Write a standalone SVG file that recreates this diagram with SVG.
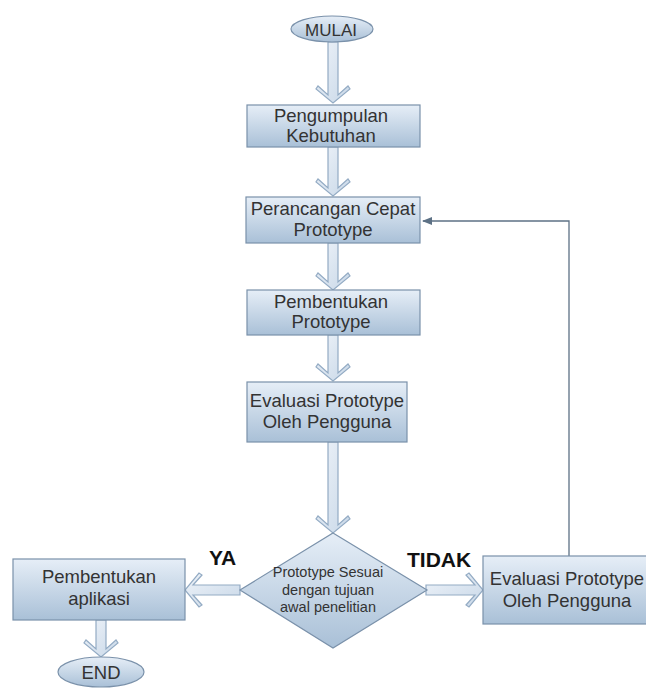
<svg xmlns="http://www.w3.org/2000/svg" width="646" height="688" viewBox="0 0 646 688">
<defs>
<linearGradient id="gBox" x1="0" y1="0" x2="0" y2="1">
<stop offset="0" stop-color="#e6eef7"/>
<stop offset="1" stop-color="#a9c0d7"/>
</linearGradient>
<linearGradient id="gArr" x1="0" y1="0" x2="1" y2="1">
<stop offset="0" stop-color="#eef3f9"/>
<stop offset="1" stop-color="#c9d8e8"/>
</linearGradient>
<marker id="tri" markerWidth="10" markerHeight="8" refX="9" refY="4" orient="auto" markerUnits="userSpaceOnUse">
<path d="M0,0 L10,4 L0,8 Z" fill="#5d7185"/>
</marker>
<style>
.box{fill:url(#gBox);stroke:#7a91aa;stroke-width:1.2}
.arr{fill:url(#gArr);stroke:#93abc4;stroke-width:1.2;stroke-linejoin:miter}
.t{font-family:"Liberation Sans",Arial,sans-serif;font-size:18.5px;fill:#333;text-anchor:middle}
.ts{font-family:"Liberation Sans",Arial,sans-serif;font-size:14.5px;fill:#333;text-anchor:middle}
.lb{font-family:"Liberation Sans",Arial,sans-serif;font-size:21px;font-weight:bold;fill:#111}
.ln{fill:none;stroke:#5d7185;stroke-width:1.3}
</style>
</defs>
<rect width="646" height="688" fill="#ffffff"/>

<g id="connectors">
<path class="arr" d="M328,42 L338,42 L338,95 L348,86 L350,89 L333,103 L316,89 L318,86 L328,95 Z"/>
<path class="arr" d="M328,147 L338,147 L338,188 L348,179 L350,182 L333,196 L316,182 L318,179 L328,188 Z"/>
<path class="arr" d="M328,243 L338,243 L338,282 L348,273 L350,276 L333,290 L316,276 L318,273 L328,282 Z"/>
<path class="arr" d="M328,335 L338,335 L338,373 L348,364 L350,367 L333,381 L316,367 L318,364 L328,373 Z"/>
<path class="arr" d="M328,442 L338,442 L338,525 L348,516 L350,519 L333,533 L316,519 L318,516 L328,525 Z"/>
<path class="arr" d="M240,585 L240,595 L193,595 L202,605 L199,607 L185,590 L199,573 L202,575 L193,585 Z"/>
<path class="arr" d="M426,585 L426,595 L475,595 L466,605 L469,607 L483,590 L469,573 L466,575 L475,585 Z"/>
<path class="arr" d="M96,620 L106,620 L106,649 L116,640 L118,643 L101,657 L84,643 L86,640 L96,649 Z"/>
<path class="ln" d="M569,556 L569,221 L423,221" marker-end="url(#tri)"/>
</g>

<g id="mulai">
<ellipse class="box" cx="332" cy="29" rx="41" ry="13"/>
<text class="t" x="331" y="36" style="font-size:17px">MULAI</text>
</g>

<g id="pengumpulan">
<rect class="box" x="247" y="105" width="173" height="42"/>
<text class="t" x="331" y="122">Pengumpulan</text>
<text class="t" x="331" y="142">Kebutuhan</text>
</g>

<g id="perancangan">
<rect class="box" x="246" y="197" width="174" height="46"/>
<text class="t" x="333" y="215">Perancangan Cepat</text>
<text class="t" x="333" y="236">Prototype</text>
</g>

<g id="pembentukan-prototype">
<rect class="box" x="247" y="290" width="173" height="45"/>
<text class="t" x="331" y="308">Pembentukan</text>
<text class="t" x="331" y="328">Prototype</text>
</g>

<g id="evaluasi1">
<rect class="box" x="247" y="382" width="160" height="60"/>
<text class="t" x="327" y="407">Evaluasi Prototype</text>
<text class="t" x="327" y="428">Oleh Pengguna</text>
</g>

<g id="keputusan">
<path class="box" d="M333,533 L427,590 L333,648 L240,590 Z"/>
<text class="ts" x="328" y="577">Prototype Sesuai</text>
<text class="ts" x="328" y="595">dengan tujuan</text>
<text class="ts" x="328" y="612">awal penelitian</text>
</g>

<g id="pembentukan-aplikasi">
<rect class="box" x="13" y="559" width="172" height="61"/>
<text class="t" x="99" y="583">Pembentukan</text>
<text class="t" x="99" y="605">aplikasi</text>
</g>

<g id="evaluasi2">
<rect class="box" x="483" y="556" width="170" height="68"/>
<text class="t" x="567" y="585">Evaluasi Prototype</text>
<text class="t" x="567" y="607">Oleh Pengguna</text>
</g>

<g id="end">
<ellipse class="box" cx="101" cy="672" rx="43" ry="15"/>
<text class="t" x="101" y="679">END</text>
</g>

<text class="lb" x="209" y="565">YA</text>
<text class="lb" x="407" y="567">TIDAK</text>
</svg>
